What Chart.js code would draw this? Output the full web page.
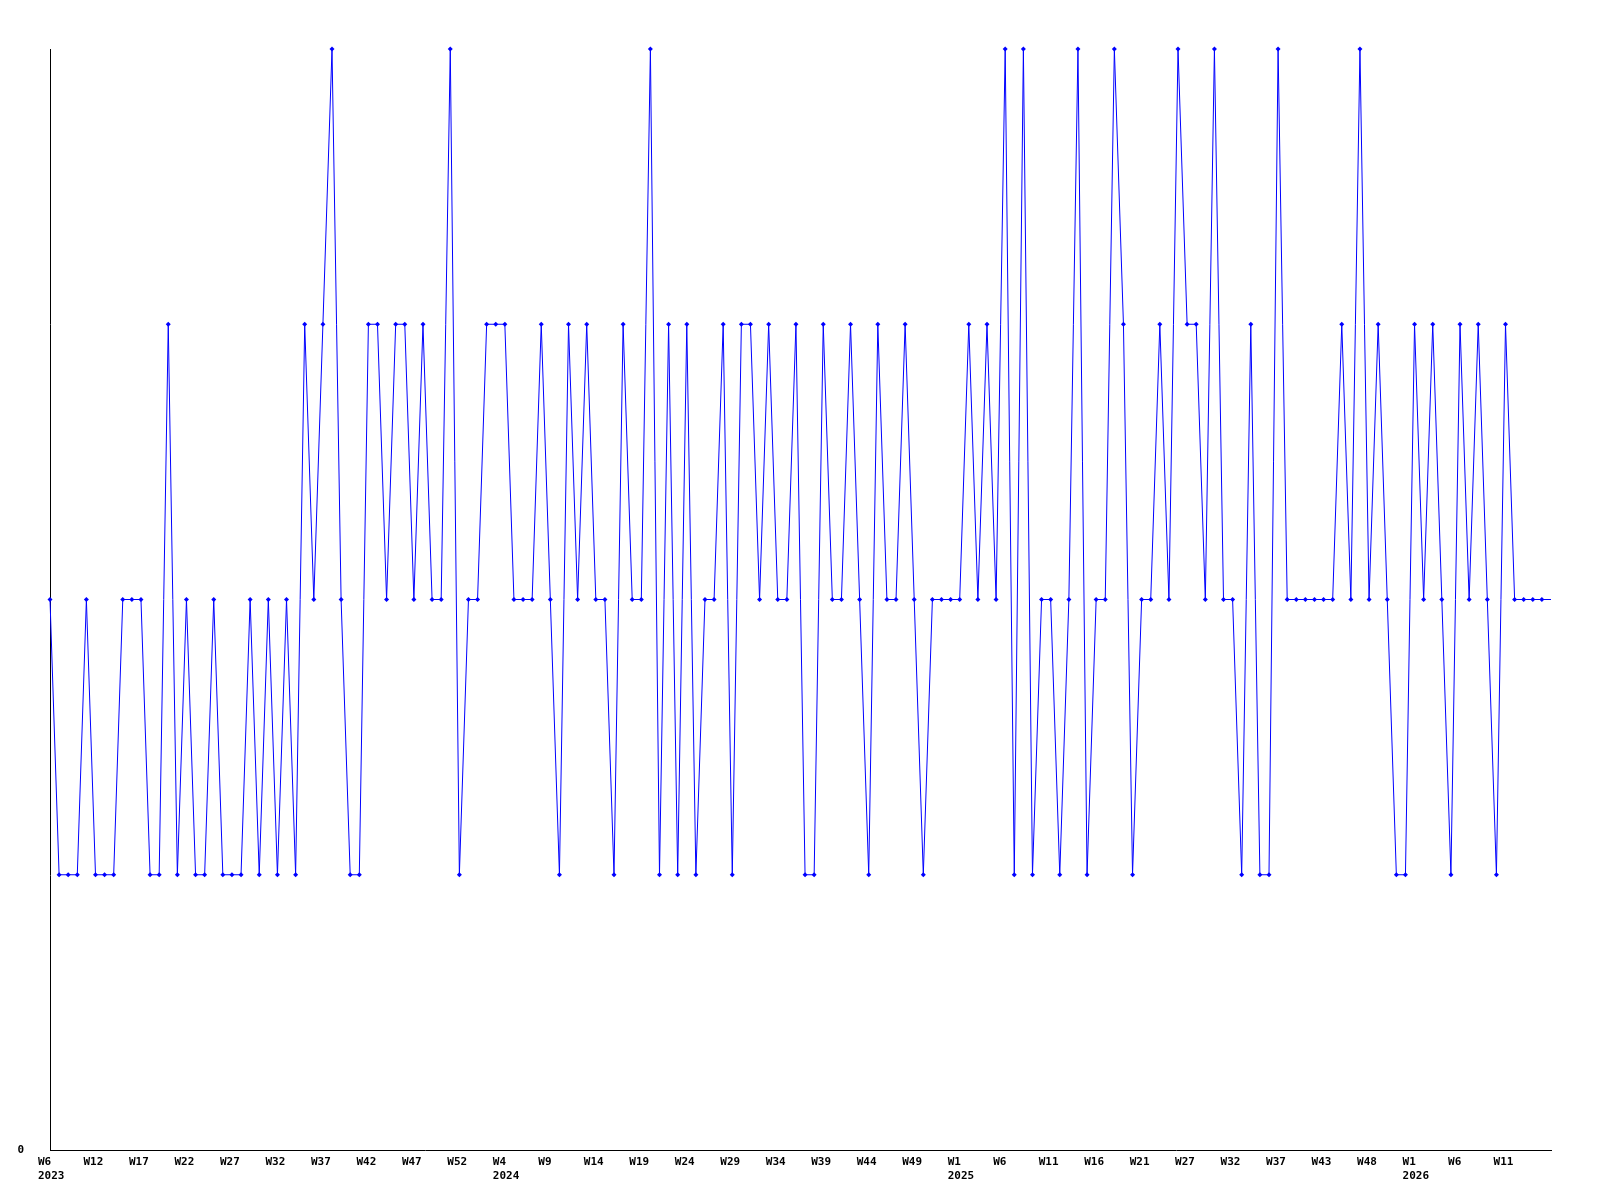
<!DOCTYPE html>
<html>
<head>
<meta charset="utf-8">
<title>Weekly</title>
<script src="https://cdn.jsdelivr.net/npm/chart.js@4.4.1/dist/chart.umd.min.js"></script>
<style>
  html, body { margin: 0; padding: 0; background: #fff; }
  .wrap { width: 1600px; height: 1200px; position: relative; }
</style>
</head>
<body>
<div class="wrap"><canvas id="chart"></canvas></div>
<script>
// ═══ DATA ═══
// one value per point (levels 1..4)
const VALUES = [
  2, 1, 1, 1, 2, 1, 1, 1, 2, 2,
  2, 1, 1, 3, 1, 2, 1, 1, 2, 1,
  1, 1, 2, 1, 2, 1, 2, 1, 3, 2,
  3, 4, 2, 1, 1, 3, 3, 2, 3, 3,
  2, 3, 2, 2, 4, 1, 2, 2, 3, 3,
  3, 2, 2, 2, 3, 2, 1, 3, 2, 3,
  2, 2, 1, 3, 2, 2, 4, 1, 3, 1,
  3, 1, 2, 2, 3, 1, 3, 3, 2, 3,
  2, 2, 3, 1, 1, 3, 2, 2, 3, 2,
  1, 3, 2, 2, 3, 2, 1, 2, 2, 2,
  2, 3, 2, 3, 2, 4, 1, 4, 1, 2,
  2, 1, 2, 4, 1, 2, 2, 4, 3, 1,
  2, 2, 3, 2, 4, 3, 3, 2, 4, 2,
  2, 1, 3, 1, 1, 4, 2, 2, 2, 2,
  2, 2, 3, 2, 4, 2, 3, 2, 1, 1,
  3, 2, 3, 2, 1, 3, 2, 3, 2, 1,
  3, 2, 2, 2, 2, 2
];

// a labelled tick every 5 points
const WEEK_TICKS = [
  'W6', 'W12', 'W17', 'W22', 'W27', 'W32', 'W37', 'W42', 'W47', 'W52',
  'W4', 'W9', 'W14', 'W19', 'W24', 'W29', 'W34', 'W39', 'W44', 'W49',
  'W1', 'W6', 'W11', 'W16', 'W21', 'W27', 'W32', 'W37', 'W43', 'W48',
  'W1', 'W6', 'W11'
];
const YEAR_TICKS = { 0: '2023', 10: '2024', 20: '2025', 30: '2026' };
const TICK_STEP = 5;

const Y_MIN = 0;
const Y_MAX = 4;

// ═══ LABELS ═══
const labels = VALUES.map((v, i) => {
  if (i % TICK_STEP !== 0) return '';
  const t = i / TICK_STEP;
  if (t >= WEEK_TICKS.length) return '';
  return YEAR_TICKS[t] ? [WEEK_TICKS[t], YEAR_TICKS[t]] : WEEK_TICKS[t];
});

const tickFont = { family: 'DejaVu Sans Mono', size: 11, weight: 'bold', lineHeight: '14px' };

// ═══ CHART ═══
new Chart(document.getElementById('chart'), {
  type: 'line',
  data: {
    labels: labels,
    datasets: [{
      data: VALUES,
      borderColor: '#0000ff',
      backgroundColor: '#0000ff',
      borderWidth: 1,
      tension: 0,
      fill: false,
      clip: false,
      pointStyle: 'rectRot',
      pointRadius: ctx => ctx.dataIndex === VALUES.length - 1 ? 0 : 2.5,
      pointBorderWidth: 0,
      pointBackgroundColor: '#0000ff',
    }]
  },
  options: {
    responsive: true,
    maintainAspectRatio: false,
    animation: false,
    layout: { padding: { top: 49, right: 49, bottom: 0, left: 0 } },
    plugins: {
      legend: { display: false },
      tooltip: { enabled: false },
    },
    scales: {
      x: {
        offset: false,
        grid: { display: false, drawTicks: false },
        border: { display: true, color: '#000', width: 1 },
        afterFit: s => { s.height = 50; },
        ticks: {
          autoSkip: false,
          maxRotation: 0,
          align: 'start',
          labelOffset: -12,
          padding: 5,
          color: '#000',
          font: tickFont,
          callback: function (v, i) { return labels[i] === '' ? null : labels[i]; },
        }
      },
      y: {
        min: Y_MIN,
        max: Y_MAX,
        grid: { display: false, drawTicks: false },
        border: { display: true, color: '#000', width: 1 },
        afterFit: s => { s.width = 50; },
        ticks: {
          stepSize: 1,
          padding: 26,
          color: '#000',
          font: tickFont,
          callback: v => v === 0 ? '0' : null,
        }
      }
    }
  }
});
</script>
</body>
</html>
